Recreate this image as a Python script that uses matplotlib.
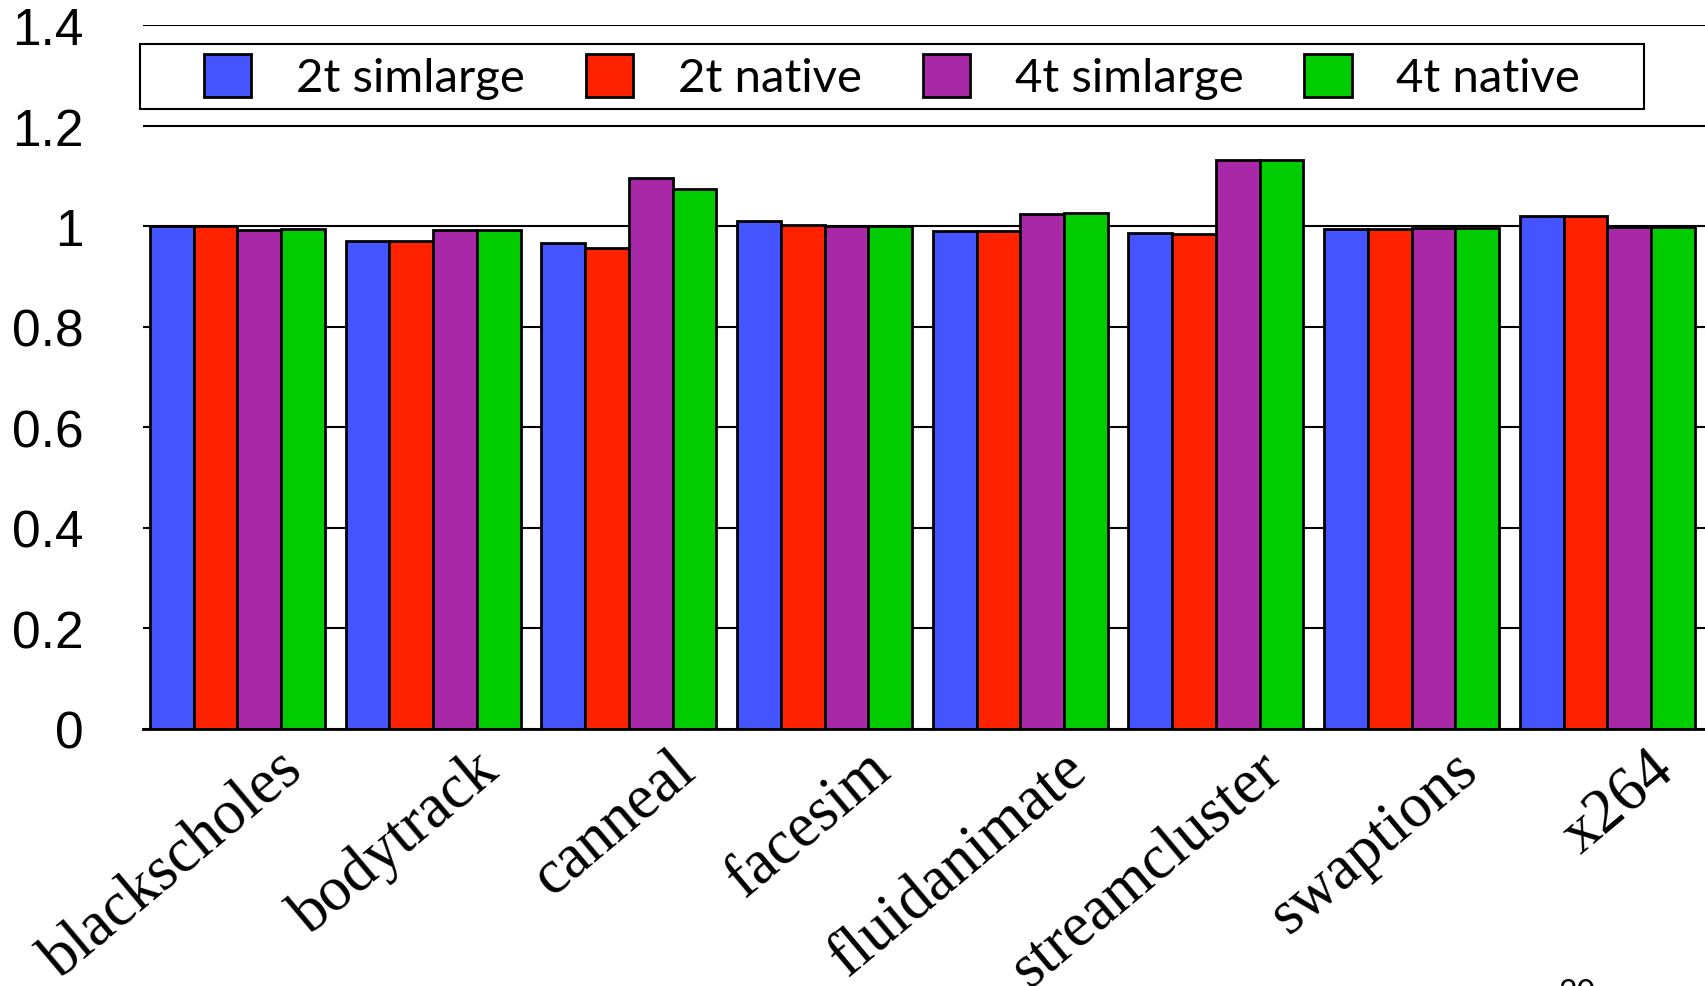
import matplotlib
matplotlib.use("Agg")
import matplotlib.pyplot as plt
import numpy as np

# PARSEC benchmarks, normalised to the 2t/4t baseline
benchmarks = ["blackscholes", "bodytrack", "canneal", "facesim",
              "fluidanimate", "streamcluster", "swaptions", "x264"]
series_names = ["2t simlarge", "2t native", "4t simlarge", "4t native"]
two_t_simlarge = [1.000, 0.971, 0.967, 1.011, 0.991, 0.986, 0.994, 1.021]
two_t_native = [1.000, 0.971, 0.958, 1.003, 0.991, 0.985, 0.994, 1.021]
four_t_simlarge = [0.993, 0.993, 1.096, 1.000, 1.025, 1.132, 0.997, 0.998]
four_t_native = [0.995, 0.993, 1.075, 1.000, 1.027, 1.132, 0.997, 0.998]
y_ticks = [0, 0.2, 0.4, 0.6, 0.8, 1.0, 1.2, 1.4]
y_tick_labels = ["0", "0.2", "0.4", "0.6", "0.8", "1", "1.2", "1.4"]
page_number = "20"

colors = ["#4455FF", "#FF2200", "#A828A8", "#00CC00"]
series = [two_t_simlarge, two_t_native, four_t_simlarge, four_t_native]

fig = plt.figure(figsize=(17.06, 9.87), dpi=100)
ax = fig.add_axes([0.0838, 0.2604, 1.0 - 0.0838, 0.7128])

x = np.arange(len(benchmarks))
bar_w = 0.2236
for k, (vals, col, name) in enumerate(zip(series, colors, series_names)):
    ax.bar(x + (k - 1.5) * bar_w, vals, width=bar_w, color=col,
           edgecolor="black", linewidth=2.0, label=name, zorder=3)

ax.set_xlim(-0.483, 7.504)
ax.set_ylim(0, 1.4)

# horizontal rules behind the bars
ax.set_yticks(y_ticks)
ax.set_yticklabels(y_tick_labels, fontsize=37, family="Liberation Sans")
ax.yaxis.grid(True, color="black", linewidth=1.5, zorder=0)
ax.set_axisbelow(True)
ax.tick_params(axis="y", length=0, pad=43)
ax.tick_params(axis="x", length=0)
ax.set_xticks([])

for side in ["left", "right", "top"]:
    ax.spines[side].set_visible(False)
ax.spines["bottom"].set_linewidth(2.0)
ax.spines["bottom"].set_zorder(4)

# rotated benchmark names, anchored at the end of their baseline
for i, name in enumerate(benchmarks):
    ax.text(i + 0.35, -0.088, name, rotation=40, rotation_mode="anchor",
            ha="right", va="baseline", fontsize=45,
            family="Liberation Serif", clip_on=False)

leg_fs = 34
leg = ax.legend(loc="center", bbox_to_anchor=(0.5229, 0.9215),
                bbox_transform=fig.transFigure, ncol=4,
                prop={"family": "Lato", "size": leg_fs},
                frameon=True, fancybox=False, framealpha=1.0,
                edgecolor="black", borderpad=0.2, handlelength=1.0,
                handleheight=1.04, handletextpad=0.95, columnspacing=1.29)
leg.get_frame().set_linewidth(1.5)
# wider side margins than top/bottom margins for the legend frame
leg.legendPatch.set_boxstyle("square", pad=1.15)
leg.legendPatch.set_mutation_aspect(1e-4)
for h in leg.legend_handles:
    h.set_linewidth(2.0)

fig.text(0.9133, 1 - 979 / 987, page_number, ha="left", va="top",
         fontsize=23, family="Lato")

fig.savefig("out.png", dpi=100)
